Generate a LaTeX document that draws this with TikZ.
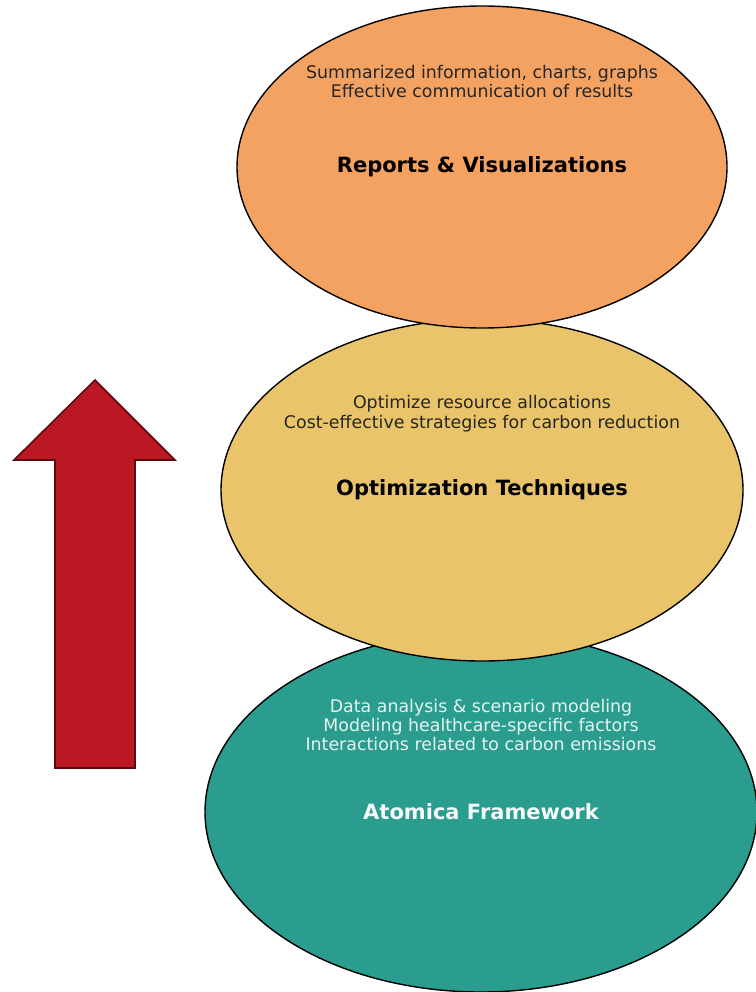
\documentclass[tikz,border=0pt]{standalone}
\usepackage{fontspec}
\setmainfont{DejaVu Sans}
\usepackage{xcolor}
\usepackage{tikz}
\usetikzlibrary{positioning, shapes.geometric}

\definecolor{reportsOrange}{HTML}{F4A261}
\definecolor{optimYellow}{HTML}{E9C46A}
\definecolor{atomicaTeal}{HTML}{2A9D8F}
\definecolor{arrowRed}{HTML}{BC1823}
\definecolor{arrowEdge}{HTML}{5C0A10}

\begin{document}
\begin{tikzpicture}[x=1pt, y=-1pt,
				LayerNode/.style={ellipse, draw=black, line width=1.4pt, inner sep=0pt,
					font=\fontsize{21}{25}\selectfont\bfseries},
				DescNode/.style={align=center, inner sep=0pt,
					font=\fontsize{17.4}{19.4}\selectfont, text=black!85}]

			\useasboundingbox (0,0) rectangle (755,992);

			% Layers, drawn bottom to top so each one sits over the next
			\node[LayerNode, fill=atomicaTeal, text=white!95!atomicaTeal,
				minimum width=552, minimum height=360] (Atomica) at (481,812) {Atomica Framework};
			\node[LayerNode, fill=optimYellow,
				minimum width=522, minimum height=342] (Optim) at (482,490) {Optimization Techniques};
			\node[LayerNode, fill=reportsOrange,
				minimum width=490, minimum height=322] (Reports) at (482,167) {Reports \& Visualizations};

			% Descriptions
			\node[DescNode, text=white!88!atomicaTeal] (AtomicaDesc) at (481,725)
				{Data analysis \& scenario modeling\\Modeling healthcare-specific factors\\Interactions related to carbon emissions};
			\node[DescNode] (OptimDesc) at (482,413.5)
				{Optimize resource allocations\\Cost-effective strategies for carbon reduction};
			\node[DescNode] (ReportsDesc) at (482,81.5)
				{Summarized information, charts, graphs\\Effective communication of results};

			% Upward arrow
			\draw[line width=1.6pt, draw=arrowEdge, fill=arrowRed, line join=miter]
				(95,380) -- (175,460) -- (135,460) -- (135,768) -- (55,768) -- (55,460) -- (14,460) -- cycle;
		\end{tikzpicture}
\end{document}
